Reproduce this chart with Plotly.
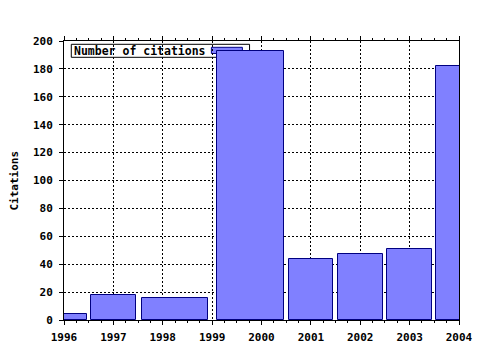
import plotly.graph_objects as go

# Data
years = [1996, 1997, 1998.24, 1999.78, 2001, 2002, 2003, 2004]
citations = [4, 18, 16, 193, 44, 47, 51, 182]
bar_widths = [0.92, 0.92, 1.34, 1.36, 0.9, 0.92, 0.92, 0.92]
x_ticks = [1996, 1997, 1998, 1999, 2000, 2001, 2002, 2003, 2004]
y_ticks = list(range(0, 201, 20))
series_name = "Number of citations"
y_title = "Citations"

W, H = 480, 350
L, R, T, B = 64, 459.3, 41, 320
FONT = "DejaVu Sans Mono"
FILL = "#8080ff"
EDGE = "#000080"


def px(x):
    return (x - L) / (R - L)


def py(y):
    return (B - y) / (B - T)


fig = go.Figure()
fig.add_trace(go.Bar(
    x=years, y=citations, width=bar_widths, name=series_name,
    marker=dict(color=FILL, line=dict(color=EDGE, width=1)),
    showlegend=False,
))

axis_common = dict(
    showline=True, linecolor="black", linewidth=1,
    showgrid=True, gridcolor="black", gridwidth=1, griddash="2px,2px",
    zeroline=False, ticks="outside", ticklen=4, tickcolor="black",
    tickfont=dict(family=FONT, size=11, color="black", weight="bold"),
)

fig.update_layout(
    width=W, height=H,
    margin=dict(l=L, r=W - R, t=T, b=H - B, autoexpand=False),
    paper_bgcolor="white", plot_bgcolor="white",
    bargap=0,
    xaxis=dict(
        range=[1996, 2004], tickvals=x_ticks, ticktext=[str(v) for v in x_ticks],
        mirror="allticks", ticklabelstandoff=3,
        minor=dict(dtick=0.25, tick0=1996, ticks="outside", ticklen=2, tickcolor="black", showgrid=False),
        **axis_common,
    ),
    yaxis=dict(
        range=[0, 200], tickvals=y_ticks, mirror=True, ticklabelstandoff=4,
        **axis_common,
    ),
    shapes=[
        dict(type="rect", xref="paper", yref="paper", layer="between",
             x0=px(71.3), x1=px(249.7), y0=py(57.3), y1=py(44.3),
             fillcolor="white", line=dict(color="black", width=1)),
        dict(type="rect", xref="paper", yref="paper", layer="between",
             x0=px(211.5), x1=px(242.5), y0=py(53.5), y1=py(47.3),
             fillcolor=FILL, line=dict(color=EDGE, width=1)),
    ],
    annotations=[
        dict(text=series_name, xref="paper", yref="paper", x=px(72), y=py(50.8),
             xanchor="left", yanchor="middle", showarrow=False,
             font=dict(family=FONT, size=11.5, color="black", weight="bold")),
        dict(text=y_title, xref="paper", yref="paper", x=px(14), y=0.5,
             xanchor="center", yanchor="middle", textangle=-90, showarrow=False,
             font=dict(family=FONT, size=11, color="black", weight="bold")),
    ],
)

fig.write_html("out.html")
